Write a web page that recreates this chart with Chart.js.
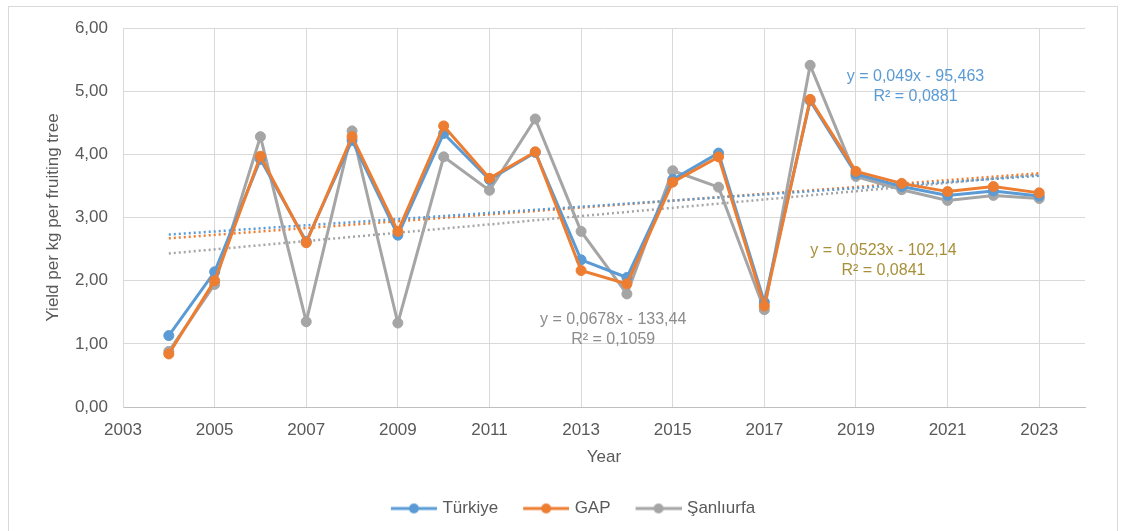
<!DOCTYPE html>
<html lang="en">
<head>
    <meta charset="UTF-8">
    <title>Yield per kg per fruiting tree</title>
    <script src="https://cdn.jsdelivr.net/npm/chart.js"></script>
    <style>
        html, body { margin: 0; padding: 0; background: #fff; }
    </style>
</head>
<body>
    <div style="width: 1122px; height: 531px;">
        <canvas id="yieldChart"></canvas>
    </div>
    <script>
        // values
        const years = [2004, 2005, 2006, 2007, 2008, 2009, 2010, 2011, 2012, 2013,
                       2014, 2015, 2016, 2017, 2018, 2019, 2020, 2021, 2022, 2023];
        const turkiye = [1.13, 2.14, 3.92, 2.62, 4.22, 2.72, 4.33, 3.60, 4.03, 2.33,
                         2.05, 3.60, 4.02, 1.66, 4.85, 3.69, 3.49, 3.35, 3.42, 3.34];
        const gap = [0.84, 2.00, 3.97, 2.60, 4.28, 2.78, 4.45, 3.62, 4.04, 2.16,
                     1.95, 3.56, 3.96, 1.60, 4.87, 3.73, 3.54, 3.41, 3.49, 3.39];
        const sanliurfa = [0.88, 1.94, 4.28, 1.35, 4.37, 1.33, 3.96, 3.43, 4.56, 2.78,
                           1.79, 3.74, 3.48, 1.54, 5.41, 3.65, 3.44, 3.27, 3.35, 3.30];

        // trendline ends (2004 and 2023) and their labels
        const trendYears = [2004, 2023];
        const trendTurkiye = [2.73, 3.66];
        const trendGap = [2.67, 3.70];
        const trendSanliurfa = [2.43, 3.68];
        const trendText = [
            ['y = 0,049x - 95,463', 'R² = 0,0881'],
            ['y = 0,0523x - 102,14', 'R² = 0,0841'],
            ['y = 0,0678x - 133,44', 'R² = 0,1059']
        ];
        // where each label sits, in data units (year, value)
        const trendTextAt = [[2020.3, 5.23], [2019.6, 2.47], [2013.7, 1.38]];
        const trendTextColor = ['#5b9bd5', '#a8903a', '#8c8c8c'];

        const blue = '#5b9bd5', orange = '#ed7d31', grey = '#a5a5a5';
        const font = 'Liberation Sans, Arial, sans-serif';
        const textColor = '#595959';

        const pts = (ys) => ys.map((v, i) => ({ x: years[i], y: v }));
        const trendPts = (ys) => ys.map((v, i) => ({ x: trendYears[i], y: v }));

        // legend swatch: short line with a marker in the middle
        function swatch(color) {
            const cv = document.createElement('canvas');
            cv.width = 52; cv.height = 12;
            const c = cv.getContext('2d');
            c.strokeStyle = color; c.lineWidth = 3;
            c.beginPath(); c.moveTo(6, 6); c.lineTo(52, 6); c.stroke();
            c.fillStyle = color;
            c.beginPath(); c.arc(29, 6, 5, 0, Math.PI * 2); c.fill();
            return cv;
        }

        const frame = {
            id: 'frame',
            beforeDraw(chart) {
                const c = chart.ctx;
                c.save();
                c.fillStyle = '#fff';
                c.fillRect(0, 0, chart.width, chart.height);
                c.strokeStyle = '#d9d9d9';
                c.lineWidth = 1;
                c.strokeRect(8.5, 6.5, chart.width - 13, chart.height + 10);
                c.restore();
            }
        };

        // legend in the original sits a little right of the plot centre
        const legendShift = {
            id: 'legendShift',
            afterLayout(chart) {
                chart.legend.left += 25;
                chart.legend.right += 25;
            }
        };

        const trendLabels = {
            id: 'trendLabels',
            afterDatasetsDraw(chart) {
                const c = chart.ctx, xs = chart.scales.x, ys = chart.scales.y;
                c.save();
                c.font = '16px ' + font;
                c.textAlign = 'center';
                c.textBaseline = 'middle';
                trendText.forEach((lines, i) => {
                    const px = xs.getPixelForValue(trendTextAt[i][0]);
                    const py = ys.getPixelForValue(trendTextAt[i][1]);
                    c.fillStyle = trendTextColor[i];
                    lines.forEach((t, j) => c.fillText(t, px, py + j * 20));
                });
                c.restore();
            }
        };

        const lineSet = (label, data, color, order) => ({
            label: label,
            data: pts(data),
            borderColor: color,
            backgroundColor: color,
            borderWidth: 3,
            pointRadius: 5,
            pointHoverRadius: 5,
            pointBorderWidth: 1,
            order: order,
            swatch: swatch(color)
        });
        const trendSet = (data, color) => ({
            label: 'trend',
            data: trendPts(data),
            borderColor: color,
            borderWidth: 2.5,
            borderDash: [2, 3],
            pointRadius: 0,
            order: 5
        });

        new Chart(document.getElementById('yieldChart'), {
            type: 'line',
            data: {
                datasets: [
                    lineSet('Türkiye', turkiye, blue, 1),
                    lineSet('GAP', gap, orange, 0),
                    lineSet('Şanlıurfa', sanliurfa, grey, 2),
                    trendSet(trendTurkiye, blue),
                    trendSet(trendGap, orange),
                    trendSet(trendSanliurfa, grey)
                ]
            },
            options: {
                responsive: true,
                maintainAspectRatio: false,
                animation: false,
                layout: { padding: { left: 8, right: 37, top: 28, bottom: 4 } },
                plugins: {
                    tooltip: { enabled: false },
                    legend: {
                        position: 'bottom',
                        labels: {
                            font: { family: font, size: 17 },
                            color: textColor,
                            usePointStyle: true,
                            pointStyleWidth: 46,
                            boxHeight: 12,
                            padding: 22,
                            filter: (item) => item.text !== 'trend',
                            sort: (a, b) => a.datasetIndex - b.datasetIndex,
                            generateLabels(chart) {
                                const items = Chart.defaults.plugins.legend.labels.generateLabels(chart);
                                items.forEach(it => {
                                    const ds = chart.data.datasets[it.datasetIndex];
                                    if (ds.swatch) it.pointStyle = ds.swatch;
                                });
                                return items;
                            }
                        }
                    }
                },
                scales: {
                    x: {
                        type: 'linear',
                        min: 2003,
                        max: 2024,
                        afterBuildTicks(scale) {
                            scale.ticks = [];
                            for (let y = 2003; y <= 2023; y += 2) scale.ticks.push({ value: y });
                        },
                        afterFit(scale) { scale.height = 71; },
                        grid: { color: '#d9d9d9', drawTicks: false },
                        border: { color: '#bfbfbf' },
                        ticks: {
                            padding: 13,
                            font: { family: font, size: 17 },
                            color: textColor,
                            callback: (v) => String(v)
                        },
                        title: {
                            display: true,
                            text: 'Year',
                            font: { family: font, size: 17 },
                            color: textColor,
                            padding: { top: 0, bottom: 10 }
                        }
                    },
                    y: {
                        min: 0,
                        max: 6,
                        afterFit(scale) { scale.width = 115; },
                        grid: { color: '#d9d9d9', drawTicks: false },
                        border: { color: '#d9d9d9' },
                        ticks: {
                            stepSize: 1,
                            padding: 15,
                            font: { family: font, size: 17 },
                            color: textColor,
                            callback: (v) => v.toFixed(2).replace('.', ',')
                        },
                        title: {
                            display: true,
                            text: 'Yield per kg per fruiting tree',
                            font: { family: font, size: 17 },
                            color: textColor,
                            padding: { top: 35, bottom: 0 }
                        }
                    }
                }
            },
            plugins: [frame, legendShift, trendLabels]
        });
    </script>
</body>
</html>
